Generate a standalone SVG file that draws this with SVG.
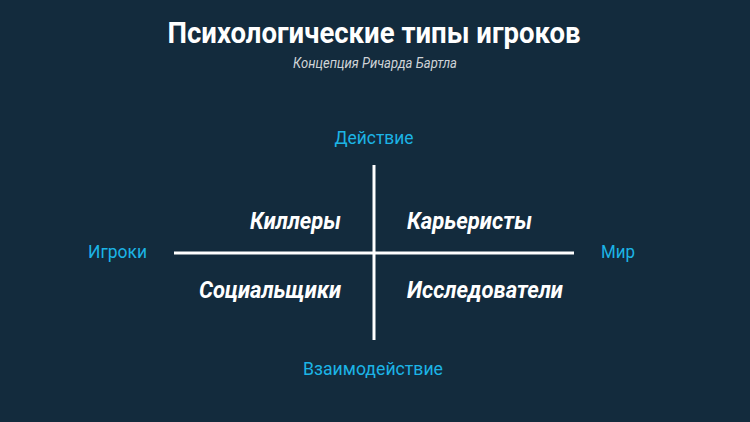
<svg xmlns="http://www.w3.org/2000/svg" width="750" height="422" viewBox="0 0 750 422">
<style>
.t{font-family:Roboto,"Liberation Sans",sans-serif;}
.title{font-size:29px;font-weight:700;fill:#ffffff;}
.sub{font-size:15px;font-style:italic;fill:#d0d4d8;}
.axis{font-size:18.5px;fill:#1cb4e6;}
.q{font-size:24px;font-weight:700;font-style:italic;fill:#ffffff;}
.ln{stroke:#ffffff;stroke-width:3;}
</style>
<rect width="750" height="422" fill="#132b3d"/>
<g id="title">
<text class="t title" x="374" y="43" text-anchor="middle" textLength="413" lengthAdjust="spacingAndGlyphs">Психологические типы игроков</text>
<text class="t sub" x="375" y="68" text-anchor="middle" textLength="164" lengthAdjust="spacingAndGlyphs">Концепция Ричарда Бартла</text>
</g>
<g id="connectors">
<line class="ln" x1="374" y1="165" x2="374" y2="340"/>
<line class="ln" x1="174" y1="253" x2="574" y2="253"/>
</g>
<g id="axis-top"><text class="t axis" x="374" y="144" text-anchor="middle" textLength="79" lengthAdjust="spacingAndGlyphs">Действие</text></g>
<g id="axis-left"><text class="t axis" x="88" y="258" textLength="59" lengthAdjust="spacingAndGlyphs">Игроки</text></g>
<g id="axis-right"><text class="t axis" x="601" y="258" textLength="34" lengthAdjust="spacingAndGlyphs">Мир</text></g>
<g id="axis-bottom"><text class="t axis" x="373" y="375" text-anchor="middle" textLength="140" lengthAdjust="spacingAndGlyphs">Взаимодействие</text></g>
<g id="killers"><text class="t q" x="250" y="229" textLength="91" lengthAdjust="spacingAndGlyphs">Киллеры</text></g>
<g id="achievers"><text class="t q" x="407" y="229" textLength="125" lengthAdjust="spacingAndGlyphs">Карьеристы</text></g>
<g id="socializers"><text class="t q" x="199" y="298" textLength="142" lengthAdjust="spacingAndGlyphs">Социальщики</text></g>
<g id="explorers"><text class="t q" x="407" y="298" textLength="156" lengthAdjust="spacingAndGlyphs">Исследователи</text></g>
</svg>
